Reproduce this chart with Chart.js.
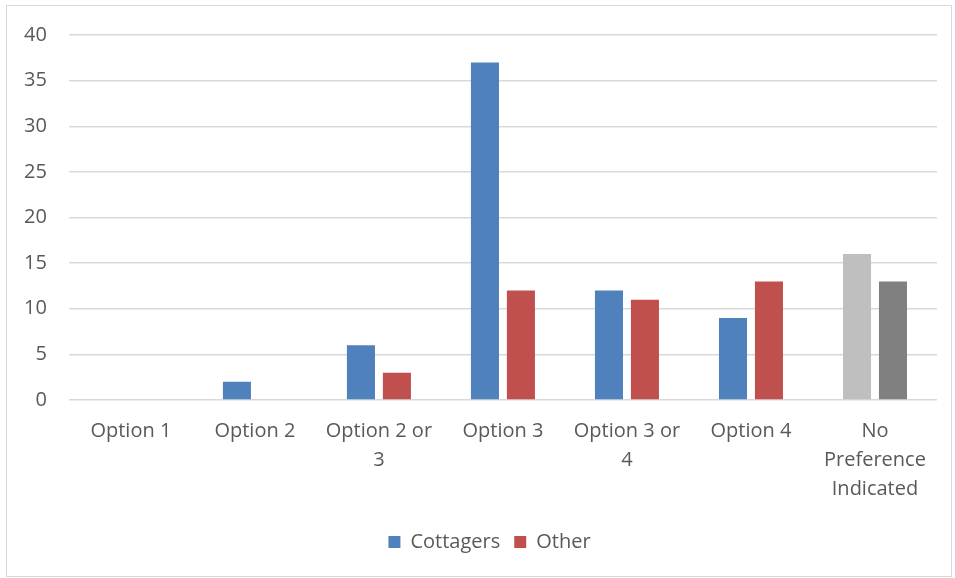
<!DOCTYPE html>
<html>
<head>
<meta charset="utf-8">
<script src="https://cdn.jsdelivr.net/npm/chart.js@4/dist/chart.umd.min.js"></script>
<style>
  body { margin: 0; background: #fff; }
  #wrap {
    position: absolute; left: 6px; top: 5px;
    width: 944px; height: 570px;
    border: 1px solid #d9d9d9; background: #fff;
  }
</style>
</head>
<body>
<div id="wrap"><canvas id="prefChart" width="944" height="570"></canvas></div>
<script>
const categories = ['Option 1', 'Option 2', ['Option 2 or', '3'], 'Option 3', ['Option 3 or', '4'], 'Option 4', ['No', 'Preference', 'Indicated']];
const cottagers = [0, 2, 6, 37, 12, 9, 16];
const other = [0, 0, 3, 12, 11, 13, 13];

// last category ("No Preference") is drawn in greys
const greyIndex = 6;
function barColour(main, grey) {
    return ctx => (ctx.type === 'data' && ctx.dataIndex === greyIndex) ? grey : main;
}

// nudge the legend a bit to the right, under the plot area
const legendShift = {
    id: 'legendShift',
    afterLayout(chart) {
        chart.legend.left += 20;
        chart.legend.right += 20;
    }
};

const ctx = document.getElementById('prefChart').getContext('2d');
Chart.defaults.font.family = "'Open Sans', sans-serif";
Chart.defaults.color = '#595959';

new Chart(ctx, {
    type: 'bar',
    data: {
        labels: categories,
        datasets: [{
            label: 'Cottagers',
            data: cottagers,
            backgroundColor: barColour('#4f81bd', '#bfbfbf'),
            categoryPercentage: 0.58,
            barPercentage: 0.78
        }, {
            label: 'Other',
            data: other,
            backgroundColor: barColour('#c0504d', '#808080'),
            categoryPercentage: 0.58,
            barPercentage: 0.78
        }]
    },
    options: {
        responsive: false,
        animation: false,
        layout: { padding: { left: -5, right: 14, top: 29, bottom: 14 } },
        plugins: {
            legend: {
                position: 'bottom',
                labels: { boxWidth: 12, boxHeight: 12, font: { size: 20 }, padding: 14 }
            },
            tooltip: { enabled: false }
        },
        scales: {
            x: {
                grid: { display: false, drawTicks: false },
                border: { display: false },
                ticks: { font: { size: 20, lineHeight: 1.45 }, maxRotation: 0, padding: 17 },
                afterFit: scale => { scale.height -= 3; }
            },
            y: {
                min: 0,
                max: 40,
                ticks: { stepSize: 5, font: { size: 20 }, padding: 22 },
                grid: { color: '#d9d9d9', lineWidth: 1.5, drawTicks: false },
                border: { display: false },
                // top gap is set by layout padding alone
                afterFit: scale => { scale.paddingTop = 0; }
            }
        }
    },
    plugins: [legendShift]
});
</script>
</body>
</html>
